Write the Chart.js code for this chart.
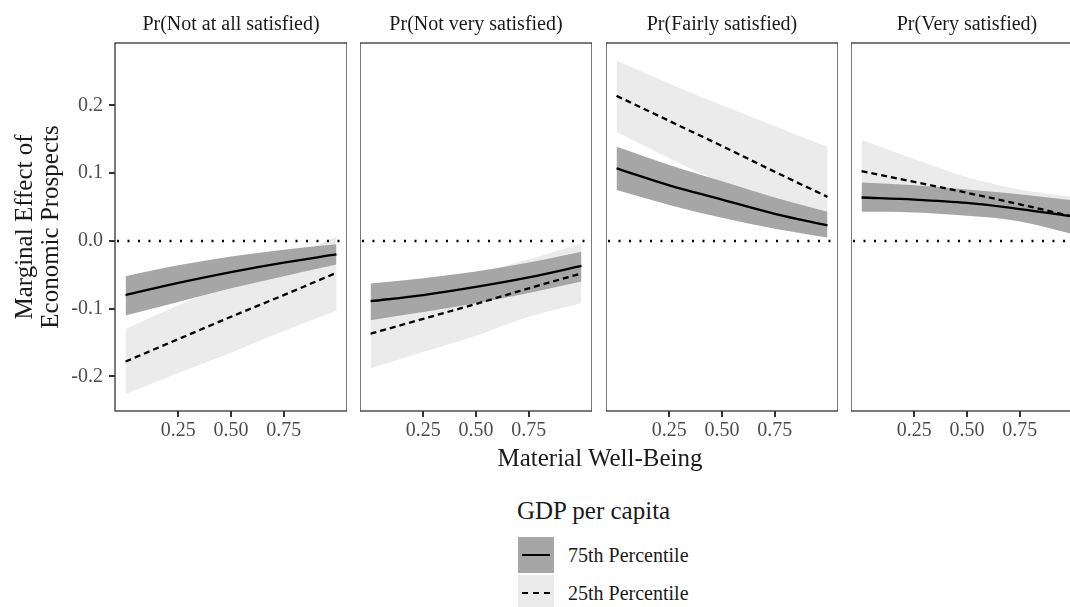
<!DOCTYPE html>
<html>
<head>
<meta charset="utf-8">
<script src="https://cdn.jsdelivr.net/npm/chart.js@4.4.0/dist/chart.umd.min.js"></script>
<style>
  body { margin: 0; background: #fff; width: 1070px; height: 607px; overflow: hidden; position: relative; font-family: "Liberation Serif", "DejaVu Serif", serif; color: #1a1a1a; }
  canvas { position: absolute; top: 0; }
  .xtitle { position: absolute; left: 400px; width: 400px; top: 443px; text-align: center; font-size: 25px; line-height: 30px; }
  .legend { position: absolute; left: 517px; top: 496px; white-space: nowrap; }
  .legend .ttl { font-size: 25px; line-height: 30px; margin-bottom: 11px; }
  .legend .row { position: relative; height: 38px; width: 200px; }
  .legend .key { position: absolute; left: 1px; top: 0; width: 36px; height: 36px; }
  .legend .key i { position: absolute; left: 4px; right: 4px; top: 17px; border-top: 2px solid #000; }
  .legend .lbl { position: absolute; left: 51px; top: 6px; font-size: 20px; line-height: 24px; }
</style>
</head>
<body>
<canvas id="p0" width="347" height="451" style="left:0px"></canvas>
<canvas id="p1" width="232" height="451" style="left:360px"></canvas>
<canvas id="p2" width="232" height="451" style="left:606px"></canvas>
<canvas id="p3" width="232" height="451" style="left:851px"></canvas>
<div class="xtitle">Material Well-Being</div>
<div class="legend">
  <div class="ttl">GDP per capita</div>
  <div class="row"><div class="key" style="background:#a6a6a6"><i></i></div><div class="lbl">75th Percentile</div></div>
  <div class="row"><div class="key" style="background:#ebebeb"><i style="border-top-style:dashed"></i></div><div class="lbl">25th Percentile</div></div>
</div>
<script>
// facets
var panelTitles = ['Pr(Not at all satisfied)', 'Pr(Not very satisfied)', 'Pr(Fairly satisfied)', 'Pr(Very satisfied)'];
var wellBeing = [0, 0.25, 0.5, 0.75, 1];
var xTicks = [0.25, 0.5, 0.75];
var yTicks = [-0.2, -0.1, 0, 0.1, 0.2];

// 75th percentile GDP: estimate and 95% band, one row per facet
var fit75 = [
  [-0.080, -0.062, -0.046, -0.032, -0.020],
  [-0.089, -0.080, -0.068, -0.054, -0.037],
  [0.107, 0.082, 0.061, 0.040, 0.023],
  [0.064, 0.061, 0.056, 0.047, 0.036]
];
var hi75 = [
  [-0.052, -0.036, -0.023, -0.013, -0.005],
  [-0.063, -0.055, -0.045, -0.032, -0.016],
  [0.139, 0.112, 0.088, 0.064, 0.043],
  [0.086, 0.082, 0.076, 0.069, 0.060]
];
var lo75 = [
  [-0.110, -0.090, -0.070, -0.052, -0.035],
  [-0.117, -0.105, -0.092, -0.077, -0.060],
  [0.075, 0.053, 0.034, 0.018, 0.005],
  [0.043, 0.042, 0.037, 0.029, 0.010]
];

// 25th percentile GDP
var fit25 = [
  [-0.178, -0.145, -0.112, -0.080, -0.047],
  [-0.137, -0.115, -0.093, -0.070, -0.048],
  [0.214, 0.177, 0.140, 0.102, 0.065],
  [0.103, 0.087, 0.071, 0.054, 0.036]
];
var hi25 = [
  [-0.130, -0.095, -0.062, -0.028, 0.007],
  [-0.088, -0.068, -0.048, -0.027, -0.004],
  [0.266, 0.232, 0.200, 0.169, 0.139],
  [0.149, 0.121, 0.094, 0.076, 0.065]
];
var lo25 = [
  [-0.226, -0.195, -0.165, -0.133, -0.103],
  [-0.188, -0.164, -0.140, -0.112, -0.092],
  [0.161, 0.122, 0.086, 0.060, 0.038],
  [0.060, 0.050, 0.040, 0.028, 0.012]
];

var serif = '"Liberation Serif", "DejaVu Serif", serif';

function pts(arr) {
  return arr.map(function (v, i) { return {x: wellBeing[i], y: v}; });
}

// dotted zero line + panel border
var panelFrame = {
  id: 'panelFrame',
  afterDatasetsDraw: function (chart) {
    var ctx = chart.ctx, a = chart.chartArea;
    var y0 = chart.scales.y.getPixelForValue(0);
    ctx.save();
    ctx.strokeStyle = '#000';
    ctx.lineWidth = 2.5;
    ctx.setLineDash([2, 8.5]);
    ctx.beginPath();
    ctx.moveTo(a.left + 2, y0);
    ctx.lineTo(a.right, y0);
    ctx.stroke();
    ctx.setLineDash([]);
    ctx.strokeStyle = '#333';
    ctx.lineWidth = 1.3;
    ctx.strokeRect(a.left, a.top, a.right - a.left, a.bottom - a.top);
    ctx.restore();
  }
};

function band(data, color) {
  return {data: pts(data), fill: '+1', backgroundColor: color, borderWidth: 0, pointRadius: 0};
}

function makePanel(p) {
  var yWidth = p === 0 ? 115 : 0;
  new Chart(document.getElementById('p' + p), {
    type: 'line',
    data: {
      datasets: [
        {data: pts(fit75[p]), borderColor: '#000', borderWidth: 2.3, pointRadius: 0, fill: false},
        {data: pts(fit25[p]), borderColor: '#000', borderWidth: 2.3, borderDash: [6, 4], pointRadius: 0, fill: false},
        band(hi75[p], '#a6a6a6'),
        {data: pts(lo75[p]), borderWidth: 0, pointRadius: 0, fill: false},
        band(hi25[p], '#ebebeb'),
        {data: pts(lo25[p]), borderWidth: 0, pointRadius: 0, fill: false}
      ]
    },
    options: {
      responsive: false,
      animation: false,
      elements: {line: {cubicInterpolationMode: 'monotone'}},
      layout: {padding: 0},
      plugins: {
        legend: {display: false},
        tooltip: {enabled: false},
        title: {
          display: true, text: panelTitles[p], fullSize: false, color: '#1a1a1a',
          font: {family: serif, size: 20, weight: 'normal'}, padding: {top: 13, bottom: 6}
        }
      },
      scales: {
        x: {
          type: 'linear', min: -0.05, max: 1.05,
          afterBuildTicks: function (s) { s.ticks = xTicks.map(function (v) { return {value: v}; }); },
          afterFit: function (s) { s.height = 40; },
          ticks: {font: {family: serif, size: 20}, color: '#4d4d4d', padding: 2, maxRotation: 0,
                  callback: function (v) { return v.toFixed(2); }},
          grid: {drawOnChartArea: false, drawTicks: true, tickLength: 6, color: '#333', lineWidth: 2},
          border: {display: false}
        },
        y: {
          display: p === 0, min: -0.251, max: 0.292,
          afterBuildTicks: function (s) { s.ticks = yTicks.map(function (v) { return {value: v}; }); },
          afterFit: function (s) { s.width = yWidth; },
          ticks: {font: {family: serif, size: 20}, color: '#4d4d4d', padding: 6,
                  callback: function (v) { return v.toFixed(1); }},
          grid: {drawOnChartArea: false, drawTicks: true, tickLength: 6, color: '#333', lineWidth: 2},
          border: {display: false},
          title: {display: true, text: ['Marginal Effect of', 'Economic Prospects'], color: '#1a1a1a',
                  font: {family: serif, size: 25, lineHeight: 1.04}, padding: {top: 12, bottom: 0}}
        }
      }
    },
    plugins: [panelFrame]
  });
}

for (var p = 0; p < 4; p++) makePanel(p);
</script>
</body>
</html>
